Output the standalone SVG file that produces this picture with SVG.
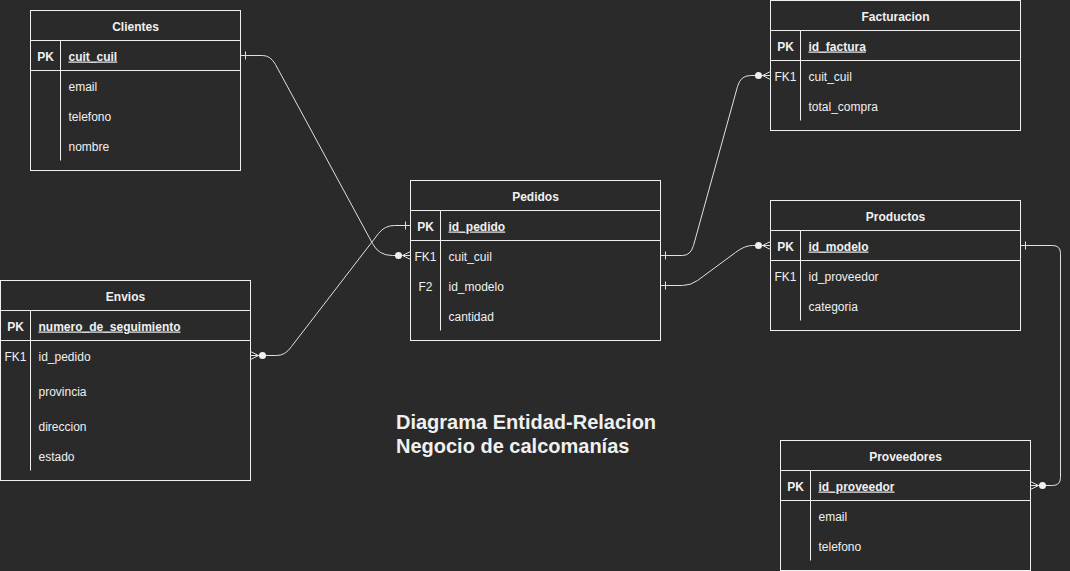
<svg xmlns="http://www.w3.org/2000/svg" width="1070" height="571" viewBox="0 0 1070 571">
<style>
.bg{fill:#2a2a2a}
.box{fill:none;stroke:#f0f0f0;stroke-width:1}
.ln{stroke:#f0f0f0;stroke-width:1;fill:none}
.t{font-family:"Liberation Sans",Arial,Helvetica,sans-serif;font-size:12px;fill:#f0f0f0}
.h{font-weight:bold;text-anchor:middle}
.k{font-weight:bold;text-anchor:middle}
.pk{font-weight:bold;text-decoration:underline}
.c{stroke:#e0e0e0;stroke-width:1;fill:none}
.dot{fill:#f0f0f0;stroke:none}
.title{font-family:"Liberation Sans",Arial,Helvetica,sans-serif;font-size:20px;font-weight:bold;fill:#f0f0f0}
</style>
<rect class="bg" x="0" y="0" width="1070" height="571"/>

<g id="clientes" transform="translate(0.5,0.5)">
<rect class="box" x="30" y="10" width="210" height="160"/>
<line class="ln" x1="30" y1="40" x2="240" y2="40"/>
<line class="ln" x1="30" y1="70" x2="240" y2="70"/>
<line class="ln" x1="60" y1="40" x2="60" y2="160"/>
<text class="t h" x="135" y="30">Clientes</text>
<text class="t k" x="45" y="60">PK</text>
<text class="t pk" x="68" y="60">cuit_cuil</text>
<text class="t" x="68" y="90">email</text>
<text class="t" x="68" y="120">telefono</text>
<text class="t" x="68" y="150">nombre</text>
</g>

<g id="pedidos" transform="translate(0.5,0.5)">
<rect class="box" x="410" y="180" width="250" height="160"/>
<line class="ln" x1="410" y1="210" x2="660" y2="210"/>
<line class="ln" x1="410" y1="240" x2="660" y2="240"/>
<line class="ln" x1="440" y1="210" x2="440" y2="330"/>
<text class="t h" x="535" y="200">Pedidos</text>
<text class="t k" x="425" y="230">PK</text>
<text class="t pk" x="448" y="230">id_pedido</text>
<text class="t" x="425" y="260" text-anchor="middle">FK1</text>
<text class="t" x="448" y="260">cuit_cuil</text>
<text class="t" x="425" y="290" text-anchor="middle">F2</text>
<text class="t" x="448" y="290">id_modelo</text>
<text class="t" x="448" y="320">cantidad</text>
</g>

<g id="envios" transform="translate(0.5,0.5)">
<rect class="box" x="0" y="280" width="250" height="200"/>
<line class="ln" x1="0" y1="310" x2="250" y2="310"/>
<line class="ln" x1="0" y1="340" x2="250" y2="340"/>
<line class="ln" x1="30" y1="310" x2="30" y2="470"/>
<text class="t h" x="125" y="300">Envios</text>
<text class="t k" x="15" y="330">PK</text>
<text class="t pk" x="38" y="330">numero_de_seguimiento</text>
<text class="t" x="15" y="360" text-anchor="middle">FK1</text>
<text class="t" x="38" y="360">id_pedido</text>
<text class="t" x="38" y="395">provincia</text>
<text class="t" x="38" y="430">direccion</text>
<text class="t" x="38" y="460">estado</text>
</g>

<g id="facturacion" transform="translate(0.5,0.5)">
<rect class="box" x="770" y="0" width="250" height="130"/>
<line class="ln" x1="770" y1="30" x2="1020" y2="30"/>
<line class="ln" x1="770" y1="60" x2="1020" y2="60"/>
<line class="ln" x1="800" y1="30" x2="800" y2="120"/>
<text class="t h" x="895" y="20">Facturacion</text>
<text class="t k" x="785" y="50">PK</text>
<text class="t pk" x="808" y="50">id_factura</text>
<text class="t" x="785" y="80" text-anchor="middle">FK1</text>
<text class="t" x="808" y="80">cuit_cuil</text>
<text class="t" x="808" y="110">total_compra</text>
</g>

<g id="productos" transform="translate(0.5,0.5)">
<rect class="box" x="770" y="200" width="250" height="130"/>
<line class="ln" x1="770" y1="230" x2="1020" y2="230"/>
<line class="ln" x1="770" y1="260" x2="1020" y2="260"/>
<line class="ln" x1="800" y1="230" x2="800" y2="320"/>
<text class="t h" x="895" y="220">Productos</text>
<text class="t k" x="785" y="250">PK</text>
<text class="t pk" x="808" y="250">id_modelo</text>
<text class="t" x="785" y="280" text-anchor="middle">FK1</text>
<text class="t" x="808" y="280">id_proveedor</text>
<text class="t" x="808" y="310">categoria</text>
</g>

<g id="proveedores" transform="translate(0.5,0.5)">
<rect class="box" x="780" y="440" width="250" height="130"/>
<line class="ln" x1="780" y1="470" x2="1030" y2="470"/>
<line class="ln" x1="780" y1="500" x2="1030" y2="500"/>
<line class="ln" x1="810" y1="470" x2="810" y2="560"/>
<text class="t h" x="905" y="460">Proveedores</text>
<text class="t k" x="795" y="490">PK</text>
<text class="t pk" x="818" y="490">id_proveedor</text>
<text class="t" x="818" y="520">email</text>
<text class="t" x="818" y="550">telefono</text>
</g>

<g id="connectors" transform="translate(0.5,0.5)">
<!-- Clientes.cuit_cuil -> Pedidos.cuit_cuil -->
<path class="c" d="M240,55 L262,55 Q270,55 275,64 L372,243 Q378,255 392,255 L410,255"/>
<line class="c" x1="245" y1="51" x2="245" y2="59"/>
<circle class="dot" cx="398" cy="255" r="3.5"/>
<path class="c" d="M410,251 L402,255 L410,259"/>
<!-- Envios.id_pedido -> Pedidos.id_pedido -->
<path class="c" d="M250,355 L276,355 Q285,355 291,346 L378,233 Q384,225 394,225 L410,225"/>
<line class="c" x1="405" y1="221" x2="405" y2="229"/>
<circle class="dot" cx="262" cy="355" r="3.5"/>
<path class="c" d="M250,351 L258,355 L250,359"/>
<!-- Pedidos.cuit_cuil -> Facturacion.cuit_cuil -->
<path class="c" d="M660,255 L682,255 Q690,255 693,245 L737,86 Q740,75 750,75 L770,75"/>
<line class="c" x1="665" y1="251" x2="665" y2="259"/>
<circle class="dot" cx="758" cy="75" r="3.5"/>
<path class="c" d="M770,71 L762,75 L770,79"/>
<!-- Pedidos.id_modelo -> Productos.id_modelo -->
<path class="c" d="M660,285 L682,285 Q690,285 697,280 L735,252 Q744,245 752,245 L770,245"/>
<line class="c" x1="665" y1="281" x2="665" y2="289"/>
<circle class="dot" cx="758" cy="245" r="3.5"/>
<path class="c" d="M770,241 L762,245 L770,249"/>
<!-- Productos.id_modelo -> Proveedores.id_proveedor -->
<path class="c" d="M1020,245 L1052,245 Q1060,245 1060,253 L1060,477 Q1060,485 1052,485 L1030,485"/>
<line class="c" x1="1025" y1="241" x2="1025" y2="249"/>
<circle class="dot" cx="1042" cy="485" r="3.5"/>
<path class="c" d="M1030,481 L1038,485 L1030,489"/>
</g>

<g id="titulo">
<text class="title" x="396" y="429">Diagrama Entidad-Relacion</text>
<text class="title" x="396" y="453">Negocio de calcomanías</text>
</g>
</svg>
